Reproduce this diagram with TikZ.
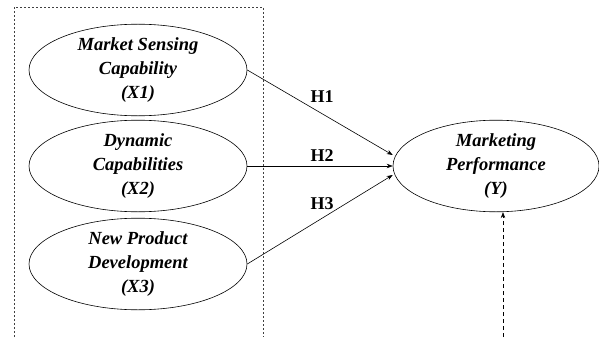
\documentclass[tikz,border=0pt]{standalone}
\usepackage{fontspec}
\setmainfont{Liberation Serif}
\usetikzlibrary{arrows.meta,calc,shapes.geometric}
\begin{document}
\begin{tikzpicture}[x=1pt,y=-1pt,
  construct/.style={draw, ellipse, line width=0.6pt, inner sep=0pt, align=center,
    font=\fontsize{18.5}{24}\selectfont\bfseries\itshape},
  link/.style={draw, line width=0.6pt, -{Stealth[length=6pt,width=4.5pt]}},
  hyp/.style={font=\fontsize{18}{20}\selectfont\bfseries},
  boxline/.style={draw, line width=0.6pt, dash pattern=on 2pt off 2pt, black!75}]
\useasboundingbox (0,0) rectangle (599,337);
\path[boxline] (14,337) -- (14,7) -- (263,7) -- (263,337);
\node[construct, minimum width=218pt, minimum height=81pt] (x1) at (138,70) {Market Sensing\\Capability\\(X1)};
\node[construct, minimum width=218pt, minimum height=81pt] (x2) at (138,166) {Dynamic\\Capabilities\\(X2)};
\node[construct, minimum width=218pt, minimum height=81pt] (x3) at (138,264) {New Product\\Development\\(X3)};
\node[construct, minimum width=206pt, minimum height=82pt] (y) at (496,166) {Marketing\\Performance\\(Y)};
\draw[link] (x1.east) -- ([yshift=11pt]y.west);
\draw[link] (x2.east) -- (y.west);
\draw[link] (x3.east) -- ([yshift=-9pt]y.west);
\node[hyp] (h1) at (322,97) {H1};
\node[hyp] (h2) at (322,156) {H2};
\node[hyp] (h3) at (322,204) {H3};
\coordinate (src) at (503,337);
\draw[line width=0.6pt, dash pattern=on 4pt off 3pt, -{Stealth[length=6pt,width=4.5pt]}] (src) -- (src |- y.south);
\end{tikzpicture}
\end{document}
